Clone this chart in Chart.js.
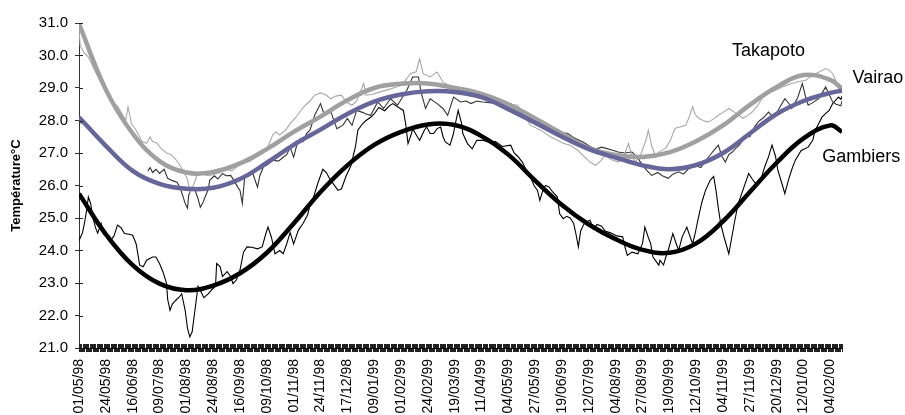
<!DOCTYPE html>
<html>
<head>
<meta charset="utf-8">
<script src="https://cdn.jsdelivr.net/npm/chart.js@4"></script>
<style>
  body { margin: 0; background: #fff; }
</style>
</head>
<body>
<canvas id="tempChart" width="905" height="415"></canvas>
<script>
// days counted from 01/05/98
const lastDay = 654;
const labelStep = 23;

// fitted curves, one value every 23 days (+ last day)
const fitDays = [0, 23, 46, 69, 92, 115, 138, 161, 184, 207, 230, 253, 276, 299, 322,
  345, 368, 391, 414, 437, 460, 483, 506, 529, 552, 575, 598, 621, 644, 654];
const takapotoFit = [30.98, 28.95, 27.6, 26.75, 26.4, 26.42, 26.68, 27.12, 27.65, 28.12, 28.62, 29.0, 29.13, 29.14, 29.0,
  28.82, 28.5, 28.06, 27.6, 27.15, 26.94, 26.88, 27.02, 27.36, 27.85, 28.48, 29.03, 29.4, 29.25, 28.98];
const vairaoFit = [28.1, 27.22, 26.45, 26.05, 25.9, 25.93, 26.2, 26.7, 27.25, 27.72, 28.2, 28.58, 28.8, 28.9, 28.88,
  28.72, 28.35, 27.93, 27.5, 27.12, 26.86, 26.62, 26.5, 26.63, 27.0, 27.6, 28.2, 28.6, 28.85, 28.92];
const gambiersFit = [25.75, 24.5, 23.55, 22.98, 22.78, 22.92, 23.3, 23.93, 24.83, 25.8, 26.62, 27.25, 27.65, 27.88, 27.86,
  27.52, 26.95, 26.15, 25.4, 24.8, 24.35, 24.02, 23.93, 24.22, 24.9, 25.8, 26.7, 27.45, 27.85, 27.65];

// measured temperatures
const takapotoDays = [
  0, 1, 4, 8, 14, 20, 25, 30, 33, 37,
  40, 42, 45, 49, 54, 58, 61, 63, 67, 70,
  75, 79, 83, 87, 90, 93, 95, 98, 101, 106,
  111, 116, 121, 126, 131, 136, 142, 147, 152, 157,
  162, 166, 169, 172, 177, 182, 186, 190, 194, 198,
  202, 207, 211, 216, 220, 225, 229, 234, 238, 244,
  246, 251, 258, 265, 272, 277, 284, 289, 292, 295,
  301, 307, 312, 316, 321, 328, 335, 342, 350, 357,
  364, 370, 376, 381, 387, 393, 398, 404, 410, 415,
  421, 427, 432, 438, 443, 447, 451, 456, 462, 467,
  471, 474, 477, 482, 486, 488, 491, 494, 498, 503,
  507, 511, 515, 520, 523, 526, 528, 531, 535, 539,
  544, 548, 552, 557, 562, 569, 573, 577, 582, 586,
  591, 597, 604, 611, 617, 623, 627, 631, 635, 640,
  643, 646, 649, 652, 654];
const takapotoTemp = [
  30.85, 30.3, 30.1, 29.95, 29.5, 29.1, 28.8, 28.5, 28.45, 28.2,
  28.0, 28.42, 27.9, 27.7, 27.35, 27.3, 27.5, 27.35, 27.3, 27.15,
  27.0, 26.95, 26.8, 26.6, 26.4, 26.2, 25.8, 26.0, 26.3, 26.35,
  26.3, 26.35, 26.4, 26.5, 26.45, 26.6, 26.7, 26.75, 26.9, 27.0,
  27.2, 27.55, 27.65, 27.55, 27.7, 27.95, 28.1, 28.3, 28.47, 28.6,
  28.78, 28.85, 28.8, 28.67, 28.75, 28.78, 28.57, 28.47, 28.6, 29.14,
  28.78, 28.8, 28.88, 28.95, 29.03, 29.1, 29.44, 29.5, 29.9, 29.44,
  29.34, 29.49, 29.18, 29.1, 29.03, 28.9, 28.78, 28.7, 28.62, 28.58,
  28.52, 28.5, 28.47, 28.2, 27.85, 27.75, 27.65, 27.5, 27.39, 27.3,
  27.24, 27.1, 26.93, 26.72, 26.62, 26.75, 26.93, 26.8, 26.72, 26.9,
  27.29, 26.9, 26.72, 27.0, 27.4, 27.7, 27.2, 26.93, 27.05, 27.15,
  27.4, 27.76, 27.8, 27.85, 28.1, 28.42, 28.2, 28.07, 28.0, 27.95,
  28.05, 28.16, 28.25, 28.37, 28.25, 28.07, 28.15, 28.26, 28.47, 28.72,
  28.85, 28.93, 29.05, 29.14, 29.2, 29.24, 29.35, 29.44, 29.5, 29.6,
  29.55, 29.44, 29.2, 29.03, 28.88];

const vairaoDays = [
  0, 2, 30, 59, 61, 63, 66, 69, 73, 76,
  80, 84, 87, 91, 93, 94, 97, 99, 102, 104,
  106, 108, 111, 112, 116, 119, 123, 126, 130, 133,
  136, 138, 140, 142, 146, 149, 153, 155, 158, 162,
  166, 171, 175, 178, 181, 184, 187, 190, 192, 195,
  198, 202, 207, 209, 211, 216, 220, 221, 226, 230,
  234, 238, 243, 246, 250, 256, 261, 267, 273, 277,
  281, 286, 291, 293, 297, 301, 307, 312, 316, 321,
  327, 332, 336, 341, 346, 352, 358, 364, 370, 376,
  381, 387, 394, 401, 409, 419, 425, 432, 438, 443,
  448, 451, 456, 462, 468, 474, 479, 483, 487, 491,
  496, 500, 505, 509, 514, 518, 522, 528, 533, 538,
  543, 548, 551, 554, 557, 560, 563, 566, 569, 572,
  575, 579, 582, 587, 591, 595, 599, 605, 609, 611,
  616, 620, 623, 625, 629, 634, 637, 640, 643, 646,
  649, 653, 654];
const vairaoTemp = [
  28.1, 27.9, null, 26.45, 26.55, 26.4, 26.5, 26.37, 26.5, 26.22,
  26.15, 26.1, 25.9, 25.45, 25.3, 25.7, 25.95, 25.9, 25.6, 25.33,
  25.45, 25.64, 25.9, 26.16, 26.3, 26.2, 26.37, 26.3, 26.31, 26.15,
  25.95, 25.85, 25.45, 26.26, 26.3, 26.37, 25.95, 26.3, 26.57, 26.65,
  26.78, 26.75, 26.87, 26.95, 27.17, 26.87, 27.29, 27.45, 27.35, 27.6,
  27.7, 28.16, 28.52, 28.3, 28.16, 28.26, 27.85, 27.75, 27.85, 28.06,
  27.85, 28.31, 28.25, 28.2, 28.16, 28.57, 28.37, 28.67, 28.47, 28.7,
  28.93, 29.34, 29.34, 28.9, 28.37, 28.67, 28.52, 28.37, 28.16, 28.72,
  28.57, 28.6, 28.52, 28.6, 28.57, 28.55, 28.52, 28.5, 28.52, 28.35,
  28.26, 28.16, 28.0, 27.85, 27.65, 27.6, 27.45, 27.34, 27.2, 27.12,
  27.18, 27.15, 27.1, 27.03, 27.0, 27.03, 26.85, 26.62, 26.45, 26.31,
  26.4, 26.3, 26.22, 26.35, 26.42, 26.35, 26.5, 26.62, 26.55, 26.8,
  27.03, 27.24, 26.9, 26.72, 26.95, 27.03, 27.15, 27.24, 27.4, 27.55,
  27.5, 27.8, 27.95, 28.1, 28.26, 28.1, 28.3, 28.67, 28.5, 28.37,
  28.7, 29.14, 28.7, 28.47, 28.55, 28.67, 28.85, 29.03, 28.8, 28.57,
  28.5, 28.45, 28.6];

const gambiersDays = [
  0, 3, 5, 7, 8, 10, 12, 14, 16, 19,
  21, 24, 27, 30, 33, 36, 39, 43, 46, 49,
  52, 55, 58, 63, 66, 69, 72, 75, 76, 78,
  80, 83, 86, 88, 91, 93, 95, 97, 99, 102,
  105, 107, 111, 114, 117, 118, 121, 123, 127, 130,
  132, 135, 138, 141, 144, 148, 153, 157, 160, 162,
  165, 168, 172, 175, 178, 181, 184, 185, 188, 192,
  196, 198, 201, 205, 209, 212, 215, 220, 222, 225,
  229, 233, 237, 239, 243, 246, 250, 253, 257, 262,
  266, 269, 274, 278, 280, 282, 285, 286, 290, 292,
  296, 298, 301, 304, 307, 310, 312, 314, 318, 321,
  322, 325, 328, 329, 333, 337, 341, 346, 350, 357,
  363, 370, 373, 376, 380, 383, 387, 390, 393, 395,
  398, 400, 403, 406, 410, 412, 415, 418, 421, 424,
  426, 428, 430, 433, 436, 438, 441, 444, 448, 451,
  455, 457, 461, 466, 468, 470, 474, 479, 483, 485,
  488, 490, 492, 497, 498, 501, 503, 505, 509, 512,
  514, 517, 521, 524, 526, 528, 531, 534, 537, 541,
  544, 546, 548, 550, 553, 557, 559, 562, 565, 569,
  574, 577, 580, 585, 588, 591, 594, 597, 599, 603,
  605, 608, 611, 614, 619, 625, 629, 631, 634, 637,
  641, 643, 646, 648, 651, 653, 654];
const gambiersTemp = [
  24.3, 24.55, 24.9, 25.35, 25.65, 25.44, 25.0, 24.72, 24.53, 24.83,
  24.5, 24.42, 24.31, 24.45, 24.78, 24.7, 24.52, 24.5, 24.47, 24.2,
  23.55, 23.5, 23.7, 23.8, 23.8, 23.6, 23.34, 23.0, 22.5, 22.16,
  22.35, 22.47, 22.57, 22.67, 22.16, 21.6, 21.34, 21.5, 22.06, 22.9,
  22.7, 22.55, 22.67, 22.8, 22.9, 23.6, 23.5, 23.2, 23.35, 23.2,
  22.98, 23.1, 23.4, 23.95, 24.11, 24.1, 24.05, 24.11, 24.5, 24.72,
  24.4, 23.9, 24.0, 23.9, 24.2, 24.55, 24.2, 24.31, 24.62, 24.83,
  25.1, 25.4, 25.64, 26.1, 26.5, 26.4, 26.2, 25.95, 25.85, 25.9,
  26.3, 26.6, 27.2, 27.7, 27.9, 28.0, 28.1, 28.2, 28.4, 28.3,
  28.45, 28.52, 28.4, 28.31, 27.9, 27.29, 27.6, 27.75, 27.5, 27.39,
  27.7, 27.8, 27.6, 27.6, 27.75, 27.8, 27.5, 27.34, 27.24, 27.6,
  27.8, 28.31, 27.9, 27.6, 27.29, 27.13, 27.39, 27.39, 27.35, 27.35,
  27.2, 27.24, 27.0, 26.9, 26.72, 26.5, 26.26, 26.0, 25.85, 25.54,
  25.9, 26.0, 25.95, 25.8, 25.65, 25.13, 24.98, 25.05, 25.0, 24.83,
  24.5, 24.11, 24.6, 24.83, 24.9, 24.93, 24.65, 24.8, 24.75, 24.6,
  24.55, 24.52, 24.45, 24.42, 24.1, 23.85, 23.95, 23.9, 24.21, 24.72,
  24.4, 24.21, 23.8, 23.55, 23.7, 23.55, 23.8, 24.0, 24.52, 24.2,
  24.0, 24.42, 24.72, 24.4, 24.21, 24.5, 25.03, 25.5, 25.85, 26.16,
  26.28, 25.85, 25.3, 24.83, 24.4, 23.9, 24.3, 24.9, 25.44, 25.85,
  26.37, 26.2, 26.06, 26.26, 26.6, 26.88, 27.24, 26.9, 26.47, 26.0,
  25.75, 26.16, 26.5, 26.78, 27.08, 27.18, 27.4, 27.7, 27.9, 28.11,
  28.25, 28.31, 28.52, 28.6, 28.72, 28.65, 28.75];

const FONT = '"Liberation Sans", Arial, sans-serif';
const startTime = Date.UTC(1998, 4, 1);

function dayLabel(d) {
  const dt = new Date(startTime + d * 86400000);
  const dd = String(dt.getUTCDate()).padStart(2, "0");
  const mm = String(dt.getUTCMonth() + 1).padStart(2, "0");
  const yy = String(dt.getUTCFullYear()).slice(2);
  return dd + "/" + mm + "/" + yy;
}

function points(days, temps) {
  return days.map((d, i) => ({ x: d, y: temps[i] }));
}

// short tick halves inside the plot, like the original axes
const innerTicks = {
  id: "innerTicks",
  afterDatasetsDraw(chart) {
    const { ctx, chartArea, scales } = chart;
    ctx.save();
    ctx.strokeStyle = "#222";
    ctx.lineWidth = 1;
    ctx.beginPath();
    scales.x.ticks.forEach(t => {
      const px = Math.round(scales.x.getPixelForValue(t.value)) + 0.5;
      ctx.moveTo(px, chartArea.bottom - 4);
      ctx.lineTo(px, chartArea.bottom);
    });
    scales.y.ticks.forEach(t => {
      const py = Math.round(scales.y.getPixelForValue(t.value)) + 0.5;
      ctx.moveTo(chartArea.left, py);
      ctx.lineTo(chartArea.left + 4, py);
    });
    ctx.stroke();
    ctx.restore();
  }
};

// station names next to the curves
const stationNames = [
  { text: "Takapoto", day: 591, temp: 30.13, align: "center" },
  { text: "Vairao", day: 663, temp: 29.3, align: "left" },
  { text: "Gambiers", day: 637, temp: 26.87, align: "left" }
];

const nameLabels = {
  id: "nameLabels",
  afterDraw(chart) {
    const { ctx, scales } = chart;
    ctx.save();
    ctx.font = "18px " + FONT;
    ctx.fillStyle = "#000";
    ctx.textBaseline = "middle";
    stationNames.forEach(s => {
      ctx.textAlign = s.align;
      ctx.fillText(s.text, scales.x.getPixelForValue(s.day), scales.y.getPixelForValue(s.temp));
    });
    ctx.restore();
  }
};

const rawStyle = { pointRadius: 0, borderWidth: 1.1, tension: 0, spanGaps: false, order: 2 };
const fitStyle = { pointRadius: 0, borderWidth: 4.5, tension: 0.4, order: 1 };

new Chart(document.getElementById("tempChart"), {
  type: "line",
  data: {
    datasets: [
      { label: "Takapoto", data: points(takapotoDays, takapotoTemp), borderColor: "#a8a8a8", ...rawStyle },
      { label: "Vairao", data: points(vairaoDays, vairaoTemp), borderColor: "#333333", ...rawStyle },
      { label: "Gambiers", data: points(gambiersDays, gambiersTemp), borderColor: "#000000", ...rawStyle },
      { label: "Takapoto fit", data: points(fitDays, takapotoFit), borderColor: "#a0a0a0", ...fitStyle },
      { label: "Vairao fit", data: points(fitDays, vairaoFit), borderColor: "#66669a", ...fitStyle, order: 0 },
      { label: "Gambiers fit", data: points(fitDays, gambiersFit), borderColor: "#000000", ...fitStyle }
    ]
  },
  options: {
    responsive: false,
    animation: false,
    layout: { padding: { top: 23, right: 63, left: 0, bottom: 0 } },
    plugins: {
      legend: { display: false },
      tooltip: { enabled: false }
    },
    scales: {
      x: {
        type: "linear",
        min: 0,
        max: lastDay,
        afterBuildTicks: scale => {
          const ticks = [];
          for (let d = 0; d <= lastDay; d++) ticks.push({ value: d });
          scale.ticks = ticks;
        },
        afterFit: scale => { scale.height = 67; },
        border: { color: "#000", width: 1 },
        grid: { drawOnChartArea: false, color: "#222", tickLength: 4 },
        ticks: {
          autoSkip: false,
          maxRotation: 90,
          minRotation: 90,
          padding: 7,
          color: "#000",
          font: { family: FONT, size: 14 },
          callback: value => (value % labelStep === 0 ? dayLabel(value) : "")
        }
      },
      y: {
        min: 21,
        max: 31,
        afterFit: scale => { scale.width = 79; },
        border: { color: "#333", width: 1 },
        grid: { drawOnChartArea: false, color: "#333", tickLength: 4 },
        ticks: {
          stepSize: 1,
          padding: 7,
          color: "#000",
          font: { family: FONT, size: 15 },
          callback: v => v.toFixed(1)
        },
        title: {
          display: true,
          text: "Température°C",
          color: "#000",
          padding: { top: 9, bottom: 0 },
          font: { family: FONT, size: 13, weight: "bold" }
        }
      }
    }
  },
  plugins: [innerTicks, nameLabels]
});
</script>
</body>
</html>
